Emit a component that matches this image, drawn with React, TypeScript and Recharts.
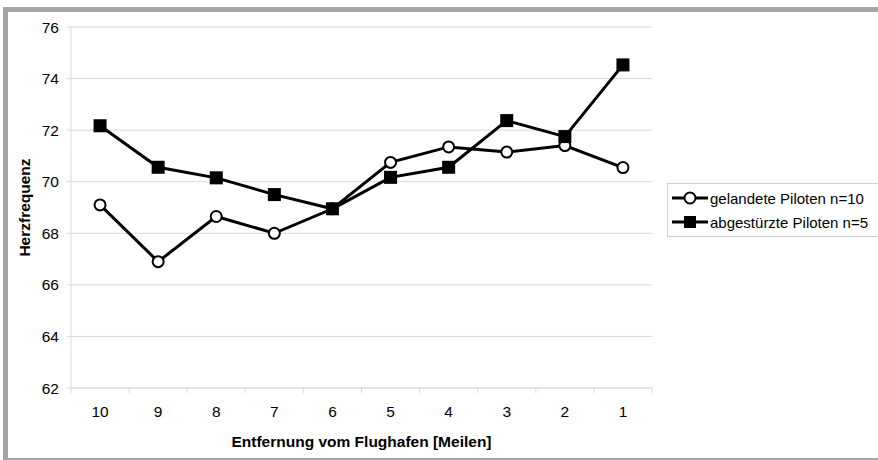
import React from 'react';
import { LineChart, Line, XAxis, YAxis, CartesianGrid } from 'recharts';

const distances = ['10', '9', '8', '7', '6', '5', '4', '3', '2', '1'];
const landed = [69.1, 66.9, 68.65, 68.0, 68.95, 70.75, 71.35, 71.15, 71.4, 70.55];
const crashed = [72.17, 70.56, 70.15, 69.5, 68.95, 70.17, 70.56, 72.37, 71.75, 74.53];
const yTicks = [62, 64, 66, 68, 70, 72, 74, 76];

const series = [
  { key: 'landed', name: 'gelandete Piloten n=10', marker: 'circle' },
  { key: 'crashed', name: 'abgestürzte Piloten n=5', marker: 'square' },
];

const data = distances.map((d, i) => ({ d, landed: landed[i], crashed: crashed[i] }));

const W = 878;
const H = 460;
const PLOT_LEFT = 71;
const PLOT_RIGHT = 652;
const STEP = (PLOT_RIGHT - PLOT_LEFT) / distances.length;
const FONT = '"Liberation Sans", Arial, sans-serif';
const FS = 15.5;
const GRID = '#d9d9d9';

function XTick(props: any) {
  const { x, y, payload, index } = props;
  const last = index === distances.length - 1;
  return (
    <g>
      <line x1={x - STEP / 2} x2={x - STEP / 2} y1={y} y2={y + 5} stroke={GRID} />
      {last && <line x1={x + STEP / 2} x2={x + STEP / 2} y1={y} y2={y + 5} stroke={GRID} />}
      <text x={x} y={y + 29} textAnchor="middle" fontSize={FS} fill="#000" fontFamily={FONT}>
        {payload.value}
      </text>
    </g>
  );
}

function SquareDot(props: any) {
  const { cx, cy } = props;
  if (cx == null || cy == null) return null;
  return <rect x={cx - 6.5} y={cy - 6.5} width={13} height={13} fill="#000" />;
}

function LegendBox() {
  return (
    <div
      style={{
        position: 'absolute',
        left: 667,
        top: 183,
        width: 240,
        border: '1px solid #cfcfcf',
        background: '#fff',
        padding: '2px 0',
        fontFamily: FONT,
        fontSize: 15,
      }}
    >
      {series.map((s) => (
        <div key={s.key} style={{ display: 'flex', alignItems: 'center', height: 24 }}>
          <svg width={40} height={16} style={{ marginLeft: 2 }}>
            <line x1={2} x2={38} y1={8} y2={8} stroke="#000" strokeWidth={3} />
            {s.marker === 'square' ? (
              <rect x={14} y={2} width={12} height={12} fill="#000" />
            ) : (
              <circle cx={20} cy={8} r={5.5} fill="#fff" stroke="#000" strokeWidth={2} />
            )}
          </svg>
          <span>{s.name}</span>
        </div>
      ))}
    </div>
  );
}

export default function App() {
  return (
    <div style={{ position: 'absolute', left: 0, top: 0, width: W, height: H, overflow: 'hidden', background: '#fff' }}>
      <div
        style={{
          position: 'absolute',
          left: 3,
          top: 7,
          width: 920,
          height: 456,
          border: '5px solid #a6a6a6',
          boxSizing: 'border-box',
        }}
      />
      <div style={{ position: 'absolute', left: 0, top: 0 }}>
        <LineChart width={W} height={H} data={data} margin={{ top: 27, right: W - PLOT_RIGHT, bottom: 42, left: 0 }}>
          <CartesianGrid vertical={false} stroke={GRID} />
          <XAxis
            dataKey="d"
            scale="band"
            axisLine={{ stroke: GRID }}
            tickLine={false}
            tickSize={0}
            tickMargin={0}
            height={30}
            tick={<XTick />}
            interval={0}
            label={{
              value: 'Entfernung vom Flughafen [Meilen]',
              position: 'insideBottom',
              offset: -29,
              style: { fontFamily: FONT, fontSize: FS, fontWeight: 'bold', fill: '#000' },
            }}
          />
          <YAxis
            domain={[62, 76]}
            ticks={yTicks}
            width={PLOT_LEFT}
            axisLine={{ stroke: GRID }}
            tickLine={{ stroke: GRID }}
            tickSize={4}
            tickMargin={8}
            tick={{ fontSize: FS, fill: '#000', fontFamily: FONT }}
            label={{
              value: 'Herzfrequenz',
              angle: -90,
              position: 'insideLeft',
              offset: 24,
              style: { fontFamily: FONT, fontSize: FS, fontWeight: 'bold', fill: '#000', textAnchor: 'middle' },
            }}
          />
          {series.map((s) => (
            <Line
              key={s.key}
              name={s.name}
              dataKey={s.key}
              type="linear"
              stroke="#000"
              strokeWidth={3}
              dot={s.marker === 'square' ? <SquareDot /> : { r: 5.5, fill: '#fff', stroke: '#000', strokeWidth: 2 }}
              activeDot={false}
              isAnimationActive={false}
            />
          ))}
        </LineChart>
      </div>
      <LegendBox />
    </div>
  );
}
